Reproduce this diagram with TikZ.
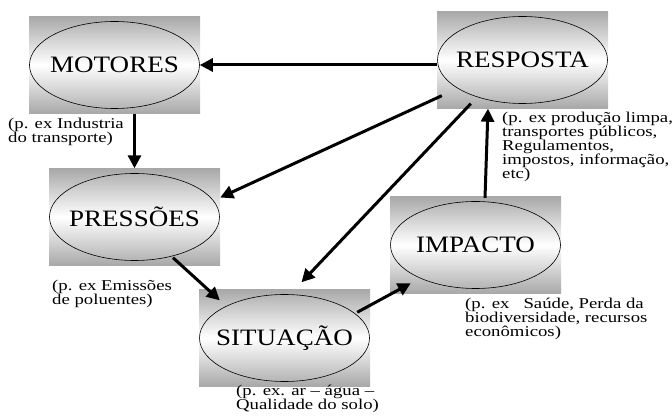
\documentclass[tikz,border=0pt]{standalone}
\usepackage{fontspec}
\setmainfont{Liberation Serif}
\newfontfamily\boxfont[FakeStretch=1.15]{Liberation Serif}
\newfontfamily\labfont[FakeStretch=1.25]{Liberation Serif}
\usetikzlibrary{shapes.geometric,arrows.meta,calc}
\definecolor{boxgray}{HTML}{A8A8A8}
\definecolor{ellgray}{HTML}{B4B4B4}
\tikzset{
 boxbg/.style={rectangle, minimum width=171pt, minimum height=97pt, inner sep=0pt, draw=none,
   top color=boxgray, bottom color=boxgray, middle color=white},
 ellnode/.style={ellipse, minimum width=170pt, minimum height=87pt, inner sep=0pt,
   draw=black, line width=0.6pt, top color=ellgray, bottom color=ellgray, middle color=white,
   font=\boxfont\fontsize{23.5}{28}\selectfont},
 note/.style={anchor=north west, inner sep=0pt, align=left,
   font=\labfont\fontsize{15}{14}\selectfont},
 flow/.style={line width=3pt, -{Triangle[length=13pt,width=13pt]}},
}
\begin{document}
\begin{tikzpicture}[x=1pt,y=-1pt]
\useasboundingbox (0,0) rectangle (672,419);
% boxes and ellipses
\node[boxbg] (motbox) at (114.5,65) {};
\node[ellnode] (mot) at (motbox.center) {\makebox[0pt]{MOTORES}};
\node[boxbg] (respbox) at (522.5,60) {};
\node[ellnode] (resp) at (respbox.center) {\makebox[0pt]{RESPOSTA}};
\node[boxbg] (presbox) at (134.5,217) {};
\node[ellnode] (pres) at (presbox.center) {\makebox[0pt]{PRESSÕES}};
\node[boxbg] (impbox) at (475.5,245) {};
\node[ellnode] (imp) at (impbox.center) {\makebox[0pt]{IMPACTO}};
\node[boxbg] (sitbox) at (284.5,338) {};
\node[ellnode] (sit) at (sitbox.center) {\makebox[0pt]{SITUAÇÃO}};
% connectors
\draw[flow] (resp.west |- mot.east) -- (mot.east);
\draw[flow] (presbox.north |- motbox.south) -- (presbox.north);
\draw[flow] ([shift={(5,-13)}]respbox.south west) -- ($(presbox.north east)!0.3!(presbox.south east)$);
\draw[flow] ([shift={(34,-5)}]respbox.south west) -- ([shift={(17,-7)}]sitbox.north);
\draw[flow] ([shift={(38.5,-8)}]presbox.south) -- ([shift={(21,11)}]sitbox.north west);
\draw[flow] ([shift={(-13,23)}]sitbox.north east) -- ([shift={(21,-10.5)}]impbox.south west);
\draw[flow] ([shift={(9.5,1.5)}]impbox.north) -- ([shift={(-34.5,0)}]respbox.south);
% notes
\node[note] (motnote) at (8,118) {(p. ex Industria\\do transporte)};
\node[note] (respnote) at (502,112) {(p. ex produção limpa,\\transportes públicos,\\Regulamentos,\\impostos, informação,\\etc)};
\node[note] (presnote) at (52,280) {(p. ex Emissões\\de poluentes)};
\node[note] (impnote) at (465,297.5) {(p. ex\ \ \ Saúde, Perda da\\biodiversidade, recursos\\econômicos)};
\node[note] (sitnote) at (236,385) {(p. ex. ar – água –\\Qualidade do solo)};
\end{tikzpicture}
\end{document}
